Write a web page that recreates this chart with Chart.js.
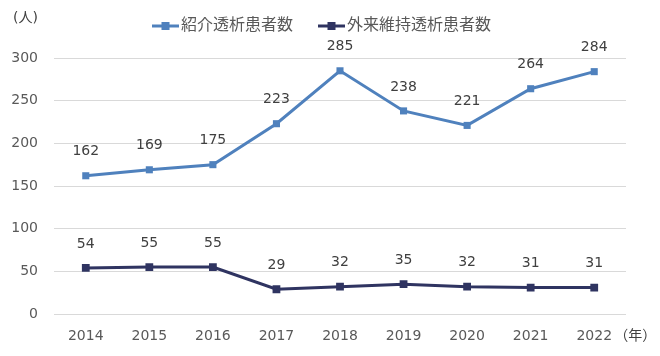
<!DOCTYPE html>
<html>
<head>
<meta charset="utf-8">
<script src="https://cdn.jsdelivr.net/npm/chart.js@4"></script>
<style>
  body { margin: 0; background: #fff; }
  #wrap { width: 660px; height: 356px; }
</style>
</head>
<body>
<div id="wrap"><canvas id="myChart" width="660" height="356"></canvas></div>
<script>
const years = ["2014", "2015", "2016", "2017", "2018", "2019", "2020", "2021", "2022"];
const referralPatients = [162, 169, 175, 223, 285, 238, 221, 264, 284];
const outpatientPatients = [54, 55, 55, 29, 32, 35, 32, 31, 31];
const seriesNames = ["紹介透析患者数", "外来維持透析患者数"];
const yUnit = "(人)";
const xUnit = "（年）";

const FONT = "'DejaVu Sans', 'Noto Sans CJK JP', sans-serif";
const blue = '#4f81bd';
const navy = '#2f3461';

// legend marker: short line with a square, pushed to the right of its box
// so it sits close to the label text
function legendIcon(color) {
  const c = document.createElement('canvas');
  c.width = 46; c.height = 10;
  const g = c.getContext('2d');
  g.strokeStyle = color;
  g.lineWidth = 3;
  g.beginPath(); g.moveTo(19, 5); g.lineTo(46, 5); g.stroke();
  g.fillStyle = color;
  g.fillRect(28.5, 1, 8, 8);
  return c;
}

// extra room under the legend + nudge it a bit
const legendTweak = {
  id: 'legendTweak',
  beforeInit(chart) {
    const lg = chart.legend;
    if (!lg) return;
    const fit = lg.fit;
    lg.fit = function () {
      fit.call(this);
      this.height += 14;
    };
  },
  afterLayout(chart) {
    chart.legend.left += 2;
    chart.legend.right += 2;
  }
};

const valueLabels = {
  id: 'valueLabels',
  afterDatasetsDraw(chart) {
    const ctx = chart.ctx;
    ctx.save();
    ctx.font = '14px ' + FONT;
    ctx.fillStyle = '#404040';
    ctx.textAlign = 'center';
    ctx.textBaseline = 'middle';
    chart.data.datasets.forEach((ds, i) => {
      chart.getDatasetMeta(i).data.forEach((pt, j) => {
        ctx.fillText(ds.data[j], pt.x, pt.y - 24);
      });
    });
    ctx.restore();
  }
};

const unitLabels = {
  id: 'unitLabels',
  afterDraw(chart) {
    const ctx = chart.ctx;
    const xs = chart.scales.x;
    ctx.save();
    ctx.font = '14px ' + FONT;
    ctx.fillStyle = '#404040';
    ctx.textBaseline = 'middle';
    ctx.textAlign = 'left';
    ctx.fillText(yUnit, 13, 18);
    const lastX = xs.getPixelForValue(years.length - 1);
    ctx.fillText(xUnit, lastX + 20, 336);
    ctx.restore();
  }
};

const ctx = document.getElementById('myChart').getContext('2d');
const chart = new Chart(ctx, {
  type: 'line',
  data: {
    labels: years,
    datasets: [{
      label: seriesNames[0],
      data: referralPatients,
      borderColor: blue,
      backgroundColor: blue,
      borderWidth: 3,
      pointStyle: 'rect',
      pointRadius: 5,
      pointBorderWidth: 0,
      tension: 0
    }, {
      label: seriesNames[1],
      data: outpatientPatients,
      borderColor: navy,
      backgroundColor: navy,
      borderWidth: 3,
      pointStyle: 'rect',
      pointRadius: 5.5,
      pointBorderWidth: 0,
      tension: 0
    }]
  },
  options: {
    responsive: false,
    animation: false,
    layout: { padding: { left: 0, right: 34, top: 6, bottom: 0 } },
    plugins: {
      legend: {
        position: 'top',
        labels: {
          font: { size: 16, family: FONT },
          color: '#595959',
          usePointStyle: true,
          pointStyleWidth: 34,
          boxHeight: 10,
          padding: 12,
          generateLabels(chart) {
            return chart.data.datasets.map((ds, i) => ({
              text: ds.label,
              pointStyle: legendIcon(ds.borderColor),
              fillStyle: ds.borderColor,
              strokeStyle: ds.borderColor,
              lineWidth: 0,
              datasetIndex: i,
              fontColor: '#595959'
            }));
          }
        }
      },
      tooltip: { enabled: false }
    },
    scales: {
      x: {
        offset: true,
        afterFit(scale) { scale.height = 42; },
        grid: { display: false, drawTicks: false },
        border: { display: false },
        ticks: { font: { size: 14, family: FONT }, color: '#595959', padding: 14 }
      },
      y: {
        min: 0,
        max: 300,
        afterFit(scale) { scale.width = 54; },
        grid: { color: '#d9d9d9', drawTicks: false },
        border: { display: false },
        ticks: { stepSize: 50, font: { size: 14, family: FONT }, color: '#595959', padding: 16 }
      }
    }
  },
  plugins: [legendTweak, valueLabels, unitLabels]
});
</script>
</body>
</html>
